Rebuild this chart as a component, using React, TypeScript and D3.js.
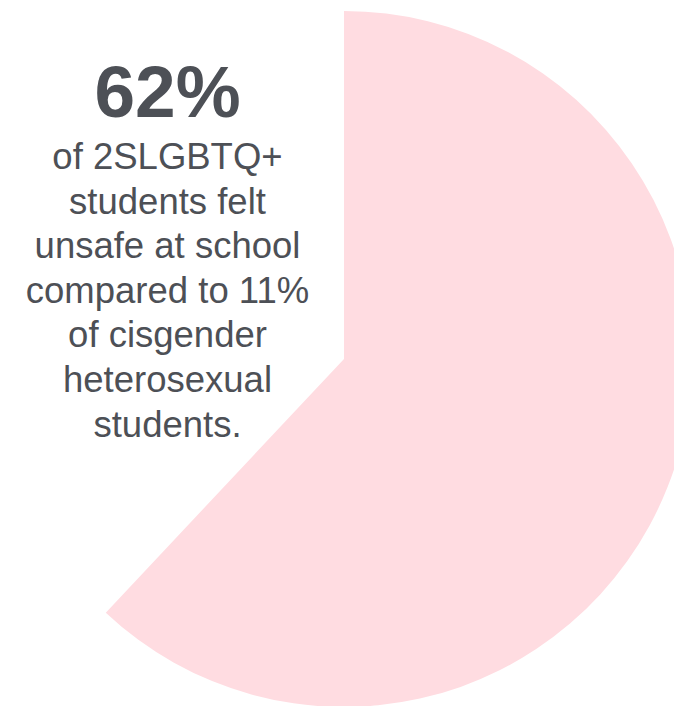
import React from "react";
import * as d3 from "d3";

const categories = ["Felt unsafe", "Other"];
const values = [62, 38];
const headline = "62%";
const bodyLines = [
  "of 2SLGBTQ+",
  "students felt",
  "unsafe at school",
  "compared to 11%",
  "of cisgender",
  "heterosexual",
  "students.",
];

const W = 674;
const H = 706;
const cx = 344;
const cy = 359;
const R = 348;

export default function App() {
  const pie = d3.pie<number>().sort(null).value((d) => d);
  const arcs = pie(values);
  const arc = d3.arc<d3.PieArcDatum<number>>().innerRadius(0).outerRadius(R);
  const colors = ["#FFDCE1", "none"];
  const textX = 167.5;
  return (
    <svg
      width={W}
      height={H}
      style={{ position: "absolute", left: 0, top: 0, display: "block" }}
      fontFamily="'Liberation Sans', Arial, sans-serif"
    >
      <rect width={W} height={H} fill="#ffffff" />
      <g transform={`translate(${cx},${cy})`}>
        {arcs.map((a, i) => (
          <path key={categories[i]} d={arc(a) || ""} fill={colors[i]} />
        ))}
      </g>
      <text x={textX} y={117} textAnchor="middle" fontSize={73} fontWeight="bold" fill="#4D5056">
        {headline}
      </text>
      {bodyLines.map((t, i) => (
        <text key={i} x={textX} y={169 + i * 44.6} textAnchor="middle" fontSize={36.5} fill="#4D5056">
          {t}
        </text>
      ))}
    </svg>
  );
}
